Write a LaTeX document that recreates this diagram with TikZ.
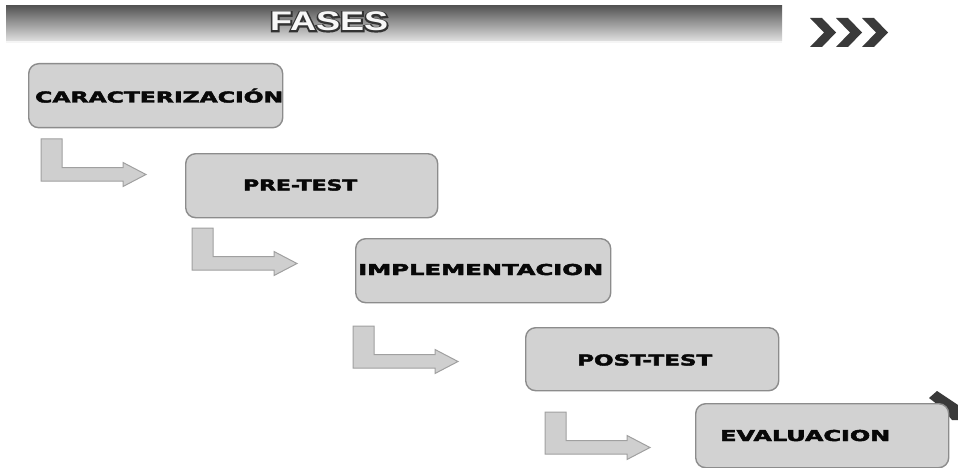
\documentclass[tikz,border=0pt]{standalone}
\usepackage{fontspec}
\usepackage{graphicx}
\newfontfamily\boxfont[FakeBold=2.6]{DejaVu Sans Bold}
\newfontfamily\titlefont{Liberation Sans Bold}
\newfontfamily\titlefontbold[FakeBold=10]{Liberation Sans Bold}
\definecolor{boxfill}{HTML}{D2D2D2}
\definecolor{boxedge}{HTML}{8C8C8C}
\definecolor{arrfill}{HTML}{CFCFCF}
\definecolor{arredge}{HTML}{A0A0A0}
\definecolor{bandtop}{HTML}{555555}
\definecolor{bandbot}{HTML}{E0E0E0}
\definecolor{chev}{HTML}{3A3A3A}
\definecolor{txt}{HTML}{080808}
\tikzset{
  phasebox/.style={draw=boxedge, fill=boxfill, line width=1.4pt, rounded corners=10pt,
    anchor=north west, inner sep=0pt},
  lbl/.style={anchor=base west, inner sep=0pt, text=txt, font=\boxfont\fontsize{15}{15}\selectfont},
  bentarrow/.pic={
    \fill[arrfill, draw=arredge, line width=1pt, line join=miter]
      (0,0) -- (21,0) -- (21,28.5) -- (82,28.5) -- (82,23.5) -- (105,35.5)
      -- (82,47.5) -- (82,42) -- (0,42) -- cycle;
  },
  chevron/.pic={
    \fill[chev] (0,0) -- (12,0) -- (26,14.5) -- (12,29) -- (0,29) -- (14,14.5) -- cycle;
  }
}
\begin{document}
\begin{tikzpicture}[x=1pt,y=-1pt]
\useasboundingbox (0,0) rectangle (958,468);
\fill[white] (0,0) rectangle (958,468);
% header band
\shade[top color=bandtop, bottom color=bandbot] (6,6) rectangle (782,41);
\fill[white!92!gray] (6,41) rectangle (782,43);
\node[anchor=base west, inner sep=0pt, text=black!80, font=\titlefontbold\fontsize{27}{27}\selectfont] (fasesbg) at (270,31) {\resizebox{118pt}{\height}{FASES}};
\node[anchor=base west, inner sep=0pt, text=white!94!gray, font=\titlefont\fontsize{27}{27}\selectfont] (fases) at (270,31) {\resizebox{118pt}{\height}{FASES}};
% chevrons
\pic (c1) at (810,18) {chevron};
\pic (c2) at (836,18) {chevron};
\pic (c3) at (862,18) {chevron};
% boxes
\node[phasebox, minimum width=254pt, minimum height=64pt] (b1) at (28,63) {};
\node[phasebox, minimum width=252pt, minimum height=64pt] (b2) at (185,153) {};
\node[phasebox, minimum width=255pt, minimum height=64pt] (b3) at (355,238) {};
\node[phasebox, minimum width=253pt, minimum height=63pt] (b4) at (525,327) {};
\fill[chev] (929,398) -- (937,391) -- (958,405) -- (958,420) -- (952,420) -- (942,408) -- cycle;
\node[phasebox, minimum width=253pt, minimum height=64pt] (b5) at (695,403) {};
% labels
\node[lbl] (t1) at (35,102.5) {\resizebox{248pt}{\height}{CARACTERIZACIÓN}};
\node[lbl] (t2) at (243,190.5) {\resizebox{114pt}{\height}{PRE-TEST}};
\node[lbl] (t3) at (358,275) {\resizebox{245pt}{\height}{IMPLEMENTACION}};
\node[lbl] (t4) at (577,365.5) {\resizebox{135pt}{\height}{POST-TEST}};
\node[lbl] (t5) at (720,441) {\resizebox{170pt}{\height}{EVALUACION}};
% bent arrows
\pic (a1) at (41,139) {bentarrow};
\pic (a2) at (192,228) {bentarrow};
\pic (a3) at (353,326) {bentarrow};
\pic (a4) at (545,412) {bentarrow};
\end{tikzpicture}
\end{document}
